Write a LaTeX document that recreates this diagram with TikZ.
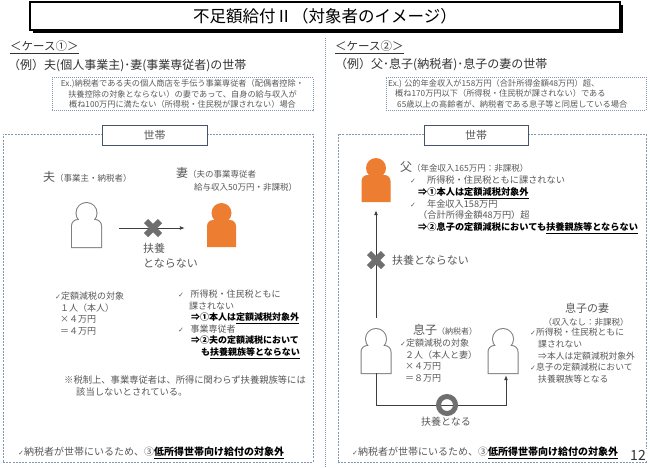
\documentclass[tikz,border=0pt]{standalone}
\usepackage{fontspec}
\setmainfont{Noto Sans CJK JP}
\newfontfamily\dejavu{DejaVu Sans}
\usetikzlibrary{arrows.meta,shadows}
\definecolor{txt}{HTML}{595959}
\definecolor{hdr}{HTML}{333333}
\definecolor{orng}{HTML}{ED7D31}
\definecolor{pgray}{HTML}{7F7F7F}
\definecolor{xgray}{HTML}{6F6F6F}
\definecolor{dashc}{HTML}{8497B0}
\definecolor{setaic}{HTML}{44546A}
\definecolor{lnc}{HTML}{3F3F3F}
\newcommand\fsz[2]{\fontsize{#1}{#2}\selectfont}
\newcommand\chk{{\dejavu\fontsize{7}{7}\selectfont ✓}}
\newcommand\bld[1]{{\bfseries\color{black}#1}}
\begin{document}
\begin{tikzpicture}[x=1pt,y=-1pt,
  tx/.style={inner sep=0pt, text=txt, anchor=west},
  blk/.style={tx, anchor=north west, align=left, font=\fsz{9}{11.6}},
  hhbox/.style={draw=dashc, dash pattern=on 2pt off 1.2pt, line width=0.7pt, inner sep=0pt},
  exbox/.style={draw=dashc, dash pattern=on 1pt off 1pt, line width=0.6pt, inner sep=0pt, text=txt},
  divider/.style={draw=dashc, dash pattern=on 1pt off 1pt, line width=0.8pt},
  setai/.style={draw=setaic, line width=0.8pt, fill=white, minimum height=20pt, inner sep=0pt, text=txt, font=\fsz{11}{13}},
  ttl/.style={draw=black, line width=1.3pt, fill=white, minimum width=590pt, minimum height=28pt, inner sep=0pt, font=\fsz{16.5}{18}, drop shadow={shadow xshift=3pt, shadow yshift=-3pt, opacity=1, fill=black}},
  arr/.style={draw=lnc, line width=0.9pt, -{Latex[length=5pt,width=4pt]}},
  xline/.style={draw=xgray, line width=6pt},
  xmk/.style={inner sep=0pt, minimum size=20pt},
  ringm/.style={circle, draw=xgray, line width=5pt, minimum size=17pt, inner sep=0pt},
  bodyp/.style={insert path={(-14.5,13.5) -- (-14.5,-7.5) arc[start angle=180,end angle=270,radius=6] -- (8.5,-13.5) arc[start angle=270,end angle=360,radius=6] -- (14.5,13.5) -- cycle}},
  body/.style={rectangle, minimum width=29pt, minimum height=27pt, inner sep=0pt},
  head/.style={circle, minimum size=20pt, inner sep=0pt},
  pics/manout/.style={code={
    \path[draw=pgray, line width=2pt, bodyp];
    \path[draw=pgray, line width=2pt] (0,-20.5) circle[radius=10];
    \path[fill=white, bodyp];
    \path[fill=white] (0,-20.5) circle[radius=10];
    \node[body] (-b) at (0,0) {};
    \node[head] (-h) at (0,-20.5) {};
  }},
  pics/manor/.style={code={
    \path[fill=orng, bodyp];
    \path[fill=orng] (0,-20.5) circle[radius=10];
    \node[body] (-b) at (0,0) {};
    \node[head] (-h) at (0,-20.5) {};
  }}
]
\useasboundingbox (0,0) rectangle (650,467);
\fill[white] (0,0) rectangle (650,467);

% title
\node[ttl] (title) at (325,16) {不足額給付Ⅱ（対象者のイメージ）};
\draw[divider] (325,38) -- (325,467);

% headers
\node[tx, text=hdr, font=\fsz{11.5}{14}] (lcase) at (10,47) {\underline{＜ケース①＞}};
\node[tx, text=hdr, font=\fsz{12}{14}] (lexh) at (8,66) {（例）夫(個人事業主)･妻(事業専従者)の世帯};
\node[tx, text=hdr, font=\fsz{11.5}{14}] (rcase) at (335,47) {\underline{＜ケース②＞}};
\node[tx, text=hdr, font=\fsz{12}{14}] (rexh) at (335,65) {（例）父･息子(納税者)･息子の妻の世帯};

% Ex boxes
\node[exbox, minimum width=261pt, minimum height=33pt, align=center, font=\fsz{8.2}{10.5}] (lexb) at (182.5,94) {Ex.)納税者である夫の個人商店を手伝う事業専従者（配偶者控除・\\扶養控除の対象とならない）の妻であって、自身の給与収入が\\概ね100万円に満たない（所得税・住民税が課されない）場合};
\node[exbox, minimum width=260pt, minimum height=33pt] (rexb) at (516,93.5) {};
\node[tx, align=left, font=\fsz{8.2}{10.5}] (rext) at (388,93.5) {Ex.) 公的年金収入が158万円（合計所得金額48万円）超、\\\hspace*{7pt}概ね170万円以下（所得税・住民税が課されない）である\\\hspace*{9pt}65歳以上の高齢者が、納税者である息子等と同居している場合};

% household boxes
\node[hhbox, minimum width=310pt, minimum height=328pt] (lbox) at (158,298) {};
\node[hhbox, minimum width=308pt, minimum height=328pt] (rbox) at (492,298) {};
\node[setai, minimum width=105pt] (lset) at (154.5,135) {世帯};
\node[setai, minimum width=104pt] (rset) at (476,135) {世帯};

% ---------- left case ----------
\pic (hus) at (86.5,233.5) {manout};
\pic (wif) at (221.5,233.5) {manor};
\node[tx] (husl) at (43,177) {{\fsz{12}{14}夫}{\fsz{8.5}{10}（事業主・納税者）}};
\node[tx] (wifl) at (176,173) {{\fsz{12}{14}妻}{\fsz{8.5}{10}（夫の事業専従者}};
\node[tx, font=\fsz{8.5}{10}] (wifl2) at (194,187) {給与収入50万円・非課税）};
\draw[arr, shorten <=18pt, shorten >=22pt] ([yshift=5.5pt]hus-b.east) -- ([yshift=5.5pt]wif-b.west);
\node[xmk] (xl) at (153,228) {};
\draw[xline] ([shift={(-7,-7)}]xl.center) -- ([shift={(7,7)}]xl.center);
\draw[xline] ([shift={(7,-7)}]xl.center) -- ([shift={(-7,7)}]xl.center);
\node[blk, font=\fsz{11}{15}] (fuyo1) at (143,242.8) {扶養\\とならない};

\node[blk] (la) at (55,291.8) {\chk 定額減税の対象\\\hspace*{5pt}１人（本人）\\\hspace*{5pt}×４万円\\\hspace*{5pt}＝４万円};
\node[blk] (lb) at (178,289.8) {\chk\hspace*{6.5pt}所得税・住民税ともに\\\hspace*{11pt}課されない\\\hspace*{13pt}\bld{⇒①本人は\underline{定額減税対象外}}\\\chk\hspace*{6.5pt}事業専従者\\\hspace*{13pt}\bld{⇒②夫の定額減税において}\\\hspace*{23pt}\bld{も\underline{扶養親族等とならない}}};
\node[blk, font=\fsz{9.3}{12}] (lnote) at (64,375.7) {※税制上、事業専従者は、所得に関わらず扶養親族等には\\\hspace*{12pt}該当しないとされている。};
\node[tx, font=\fsz{10}{12}] (lbot) at (18,453) {\chk 納税者が世帯にいるため、③\bld{\underline{低所得世帯向け給付の対象外}}};

% ---------- right case ----------
\pic (fat) at (376,188.5) {manor};
\pic (son) at (376,359.5) {manout};
\pic (swf) at (503,359.5) {manout};
\node[tx] (fatl) at (400,167) {{\fsz{12}{14}父}{\fsz{8.5}{10}（年金収入165万円：非課税）}};
\node[blk, font=\fsz{9.2}{11.7}] (fb) at (410,175.8) {\chk\hspace*{11pt}所得税・住民税ともに課されない\\\hspace*{8pt}\bld{⇒①本人は\underline{定額減税対象外}}\\\chk\hspace*{11pt}年金収入158万円\\\hspace*{8pt}（合計所得金額48万円）超\\\hspace*{8pt}\bld{⇒②息子の定額減税においても\underline{扶養親族等とならない}}};

\draw[arr, shorten <=11pt, shorten >=8pt] (son-h.north) -- (fat-b.south);
\node[xmk] (xr) at (376,260) {};
\draw[xline] ([shift={(-7,-7)}]xr.center) -- ([shift={(7,7)}]xr.center);
\draw[xline] ([shift={(7,-7)}]xr.center) -- ([shift={(-7,7)}]xr.center);
\node[tx, font=\fsz{11}{13}] (fuyo2) at (392,260) {扶養とならない};

\node[tx] (sonl) at (413,330) {{\fsz{12}{14}息子}{\fsz{8}{10}（納税者）}};
\node[blk] (sb) at (400,338.8) {\chk 定額減税の対象\\\hspace*{5pt}２人（本人と妻）\\\hspace*{5pt}×４万円\\\hspace*{5pt}＝８万円};

\node[tx, anchor=center, font=\fsz{11}{13}] (swl) at (587,308) {息子の妻};
\node[tx, anchor=center, font=\fsz{8.5}{10}] (swl2) at (586,322) {（収入なし：非課税）};
\node[blk, font=\fsz{8.8}{11.8}] (swtx) at (530,327.9) {\chk 所得税・住民税ともに\\\hspace*{8pt}課されない\\\hspace*{8pt}⇒本人は定額減税対象外\\\chk 息子の定額減税において\\\hspace*{8pt}扶養親族等となる};

\draw[arr, shorten >=2pt] (son-b.south) |- (447,405) -| ([xshift=3pt]swf-b.south);
\node[ringm] (ring) at (447,405) {};
\node[tx, anchor=center, font=\fsz{10}{12}] (fuyo3) at (446,422) {扶養となる};

\node[tx, font=\fsz{10}{12}] (rbot) at (352,453) {\chk 納税者が世帯にいるため、③\bld{\underline{低所得世帯向け給付の対象外}}};
\node[tx, anchor=center, font=\fsz{14}{16}, fill=white, inner sep=1pt, text=hdr] (pg) at (638,455) {12};
\end{tikzpicture}
\end{document}
